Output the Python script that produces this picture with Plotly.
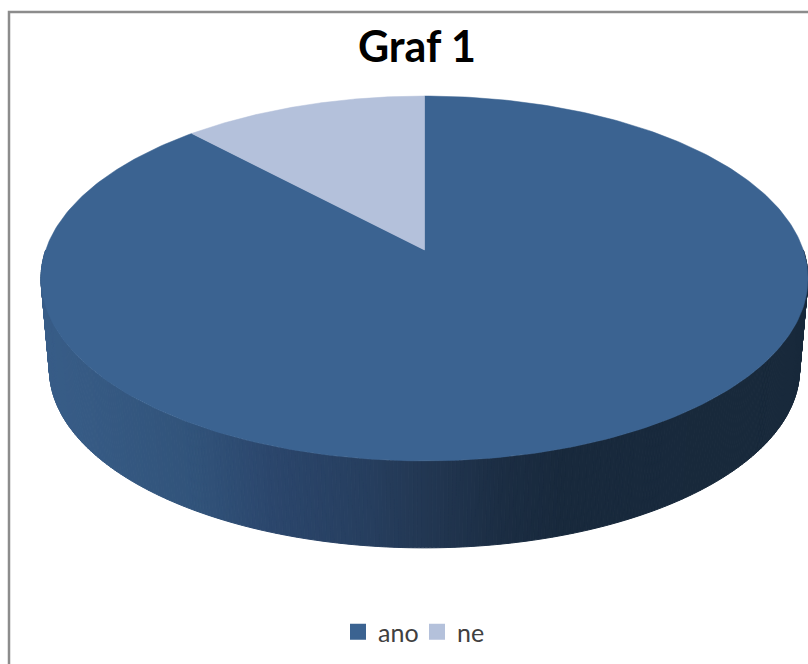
import numpy as np
import plotly.graph_objects as go

# Data
categories = ["ano", "ne"]
values = [88, 12]
colors = ["#3b6391", "#b4c1db"]
title_text = "Graf 1"

# Shading of the rim, left to right
shade_pos = [0.0, 0.2, 0.3, 0.43, 0.49, 0.6, 0.68, 1.0]
shade_rgb = [(56, 93, 136), (49, 83, 122), (43, 70, 108), (38, 62, 94), (35, 56, 84),
             (27, 45, 67), (24, 41, 60), (24, 41, 59)]

W, H = 808, 664
CX, AY = 424.5, 250.0      # pie centre on the top face
C, A = 0.156, 178.0        # perspective of the disc
K = 378.8
RIM_SCALE, RIM_DY = 0.978, 91.6


def top_face(theta):
    """theta: clockwise from 12 o'clock, in radians."""
    X, Y = np.sin(theta), np.cos(theta)
    d = 1 + C * Y
    return CX + K * X / d, AY - A * Y / d


def rim_face(theta):
    x, y = top_face(theta)
    return CX + (x - CX) * RIM_SCALE, AY + (y - AY) * RIM_SCALE + RIM_DY


def shade(x):
    t = (x - 41) / (W - 41)
    r = [np.interp(t, shade_pos, [c[i] for c in shade_rgb]) for i in range(3)]
    return "rgb(%d,%d,%d)" % tuple(round(v) for v in r)


fig = go.Figure()

# Rim, as narrow quads round the front of the disc
edges = np.radians(np.linspace(90, 270, 361))
for a, b in zip(edges[:-1], edges[1:]):
    xa, ya = top_face(a)
    xb, yb = top_face(b)
    xc, yc = rim_face(b)
    xd, yd = rim_face(a)
    col = shade((xa + xb + xc + xd) / 4)
    fig.add_trace(go.Scatter(
        x=[xa, xb, xc, xd, xa], y=[ya, yb, yc, yd, ya], mode="lines",
        fill="toself", fillcolor=col, line=dict(color=col, width=1),
        showlegend=False, hoverinfo="skip"))

# Top face slices
start = 0.0
total = sum(values)
for name, val, col in zip(categories, values, colors):
    sweep = 360.0 * val / total
    th = np.radians(np.linspace(start, start + sweep, 361))
    x, y = top_face(th)
    fig.add_trace(go.Scatter(
        x=np.r_[CX, x, CX], y=np.r_[AY, y, AY], mode="lines", fill="toself",
        fillcolor=col, line=dict(color=col, width=0.5), name=name,
        showlegend=False, hoverinfo="name"))
    start += sweep

# Legend keys
for name, col in zip(categories, colors):
    fig.add_trace(go.Scatter(
        x=[None], y=[None], mode="markers", name=name,
        marker=dict(symbol="square", size=16, color=col)))

fig.update_layout(
    width=W, height=H, autosize=False,
    margin=dict(l=0, r=0, t=0, b=0),
    paper_bgcolor="white", plot_bgcolor="white",
    xaxis=dict(range=[0, W], visible=False, fixedrange=True),
    yaxis=dict(range=[H, 0], visible=False, fixedrange=True),
    title=dict(text="<b>%s</b>" % title_text, x=417 / W, xanchor="center",
               y=1 - 47 / H, yanchor="middle",
               font=dict(family="Lato", size=43, color="#000000")),
    legend=dict(orientation="h", x=417 / W, xanchor="center",
                y=1 - 632 / H, yanchor="middle", traceorder="normal",
                font=dict(family="Lato", size=25, color="#404040"),
                itemwidth=30, entrywidth=34, entrywidthmode="pixels",
                bgcolor="rgba(0,0,0,0)"),
    shapes=[dict(type="rect", xref="x", yref="y", x0=9, y0=12, x1=W + 20, y1=H + 20,
                 line=dict(color="#8c8c8c", width=2.5), layer="below")],
)

fig.write_html("out.html", config={"displayModeBar": False},
               post_script="document.body.style.margin='0';document.documentElement.style.overflow='hidden';")
